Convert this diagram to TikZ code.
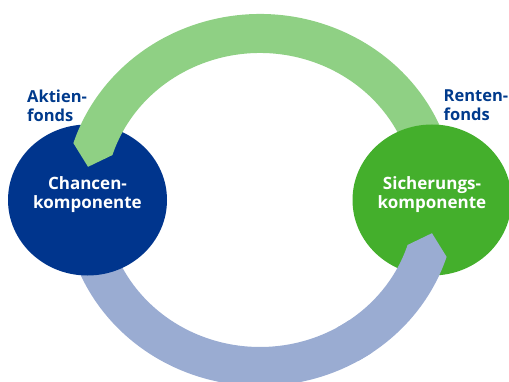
\documentclass[tikz,border=0pt]{standalone}
\usepackage{fontspec}
\setmainfont{Open Sans}
\usetikzlibrary{shapes.geometric,calc}

\definecolor{chancenblue}{HTML}{00358D}
\definecolor{fondsblue}{HTML}{003A8C}
\definecolor{sicherungsgreen}{HTML}{44AF2C}
\definecolor{bandgreen}{HTML}{8FD084}
\definecolor{bandblue}{HTML}{9AACD2}

\begin{document}
\begin{tikzpicture}[x=1pt,y=1pt,
        komponente/.style={ellipse,minimum width=159pt,minimum height=151pt,inner sep=0pt},
        komptext/.style={align=center,text=white,inner sep=0pt,
                font=\fontsize{17}{19}\selectfont\bfseries},
        fonds/.style={align=left,text=fondsblue,inner sep=0pt,anchor=north west,
                font=\fontsize{16.5}{19.5}\selectfont\bfseries}]
    \useasboundingbox (0,0) rectangle (509,381);
    \coordinate (ring) at (260,181);

    % Blue band, body (starts under the left circle)
    \fill[bandblue] ($(ring)+(195:196 and 186)$)
        arc[start angle=195,end angle=305,x radius=196,y radius=186]
        -- ($(ring)+(305:155 and 147)$)
        arc[start angle=305,end angle=195,x radius=155,y radius=147] -- cycle;

    % Left circle
    \node[komponente,fill=chancenblue] (chancen) at (87.5,181) {};

    % Green band with pointed end
    \fill[bandgreen] ($(ring)+(15:196 and 186)$)
        arc[start angle=15,end angle=162.2,x radius=196,y radius=186]
        -- ($(ring)+(168.5:175.5 and 166.5)$)
        -- ($(ring)+(162.2:155 and 147)$)
        arc[start angle=162.2,end angle=15,x radius=155,y radius=147] -- cycle;

    % Right circle
    \node[komponente,fill=sicherungsgreen] (sicherung) at (432,181) {};

    % Blue band, pointed end over the right circle
    \fill[bandblue] ($(ring)+(300:196 and 186)$)
        arc[start angle=300,end angle=342.2,x radius=196,y radius=186]
        -- ($(ring)+(348.5:175.5 and 166.5)$)
        -- ($(ring)+(342.2:155 and 147)$)
        arc[start angle=342.2,end angle=300,x radius=155,y radius=147] -- cycle;

    % Labels
    \node[komptext] (chancentext) at ([yshift=5pt]chancen.center) {Chancen-\\komponente};
    \node[komptext] (sicherungtext) at ([yshift=5pt]sicherung.center) {Sicherungs-\\komponente};
    \node[fonds] (aktien) at (27,291.5) {Aktien-\\fonds};
    \node[fonds] (renten) at (443.5,291.5) {Renten-\\fonds};
\end{tikzpicture}
\end{document}
